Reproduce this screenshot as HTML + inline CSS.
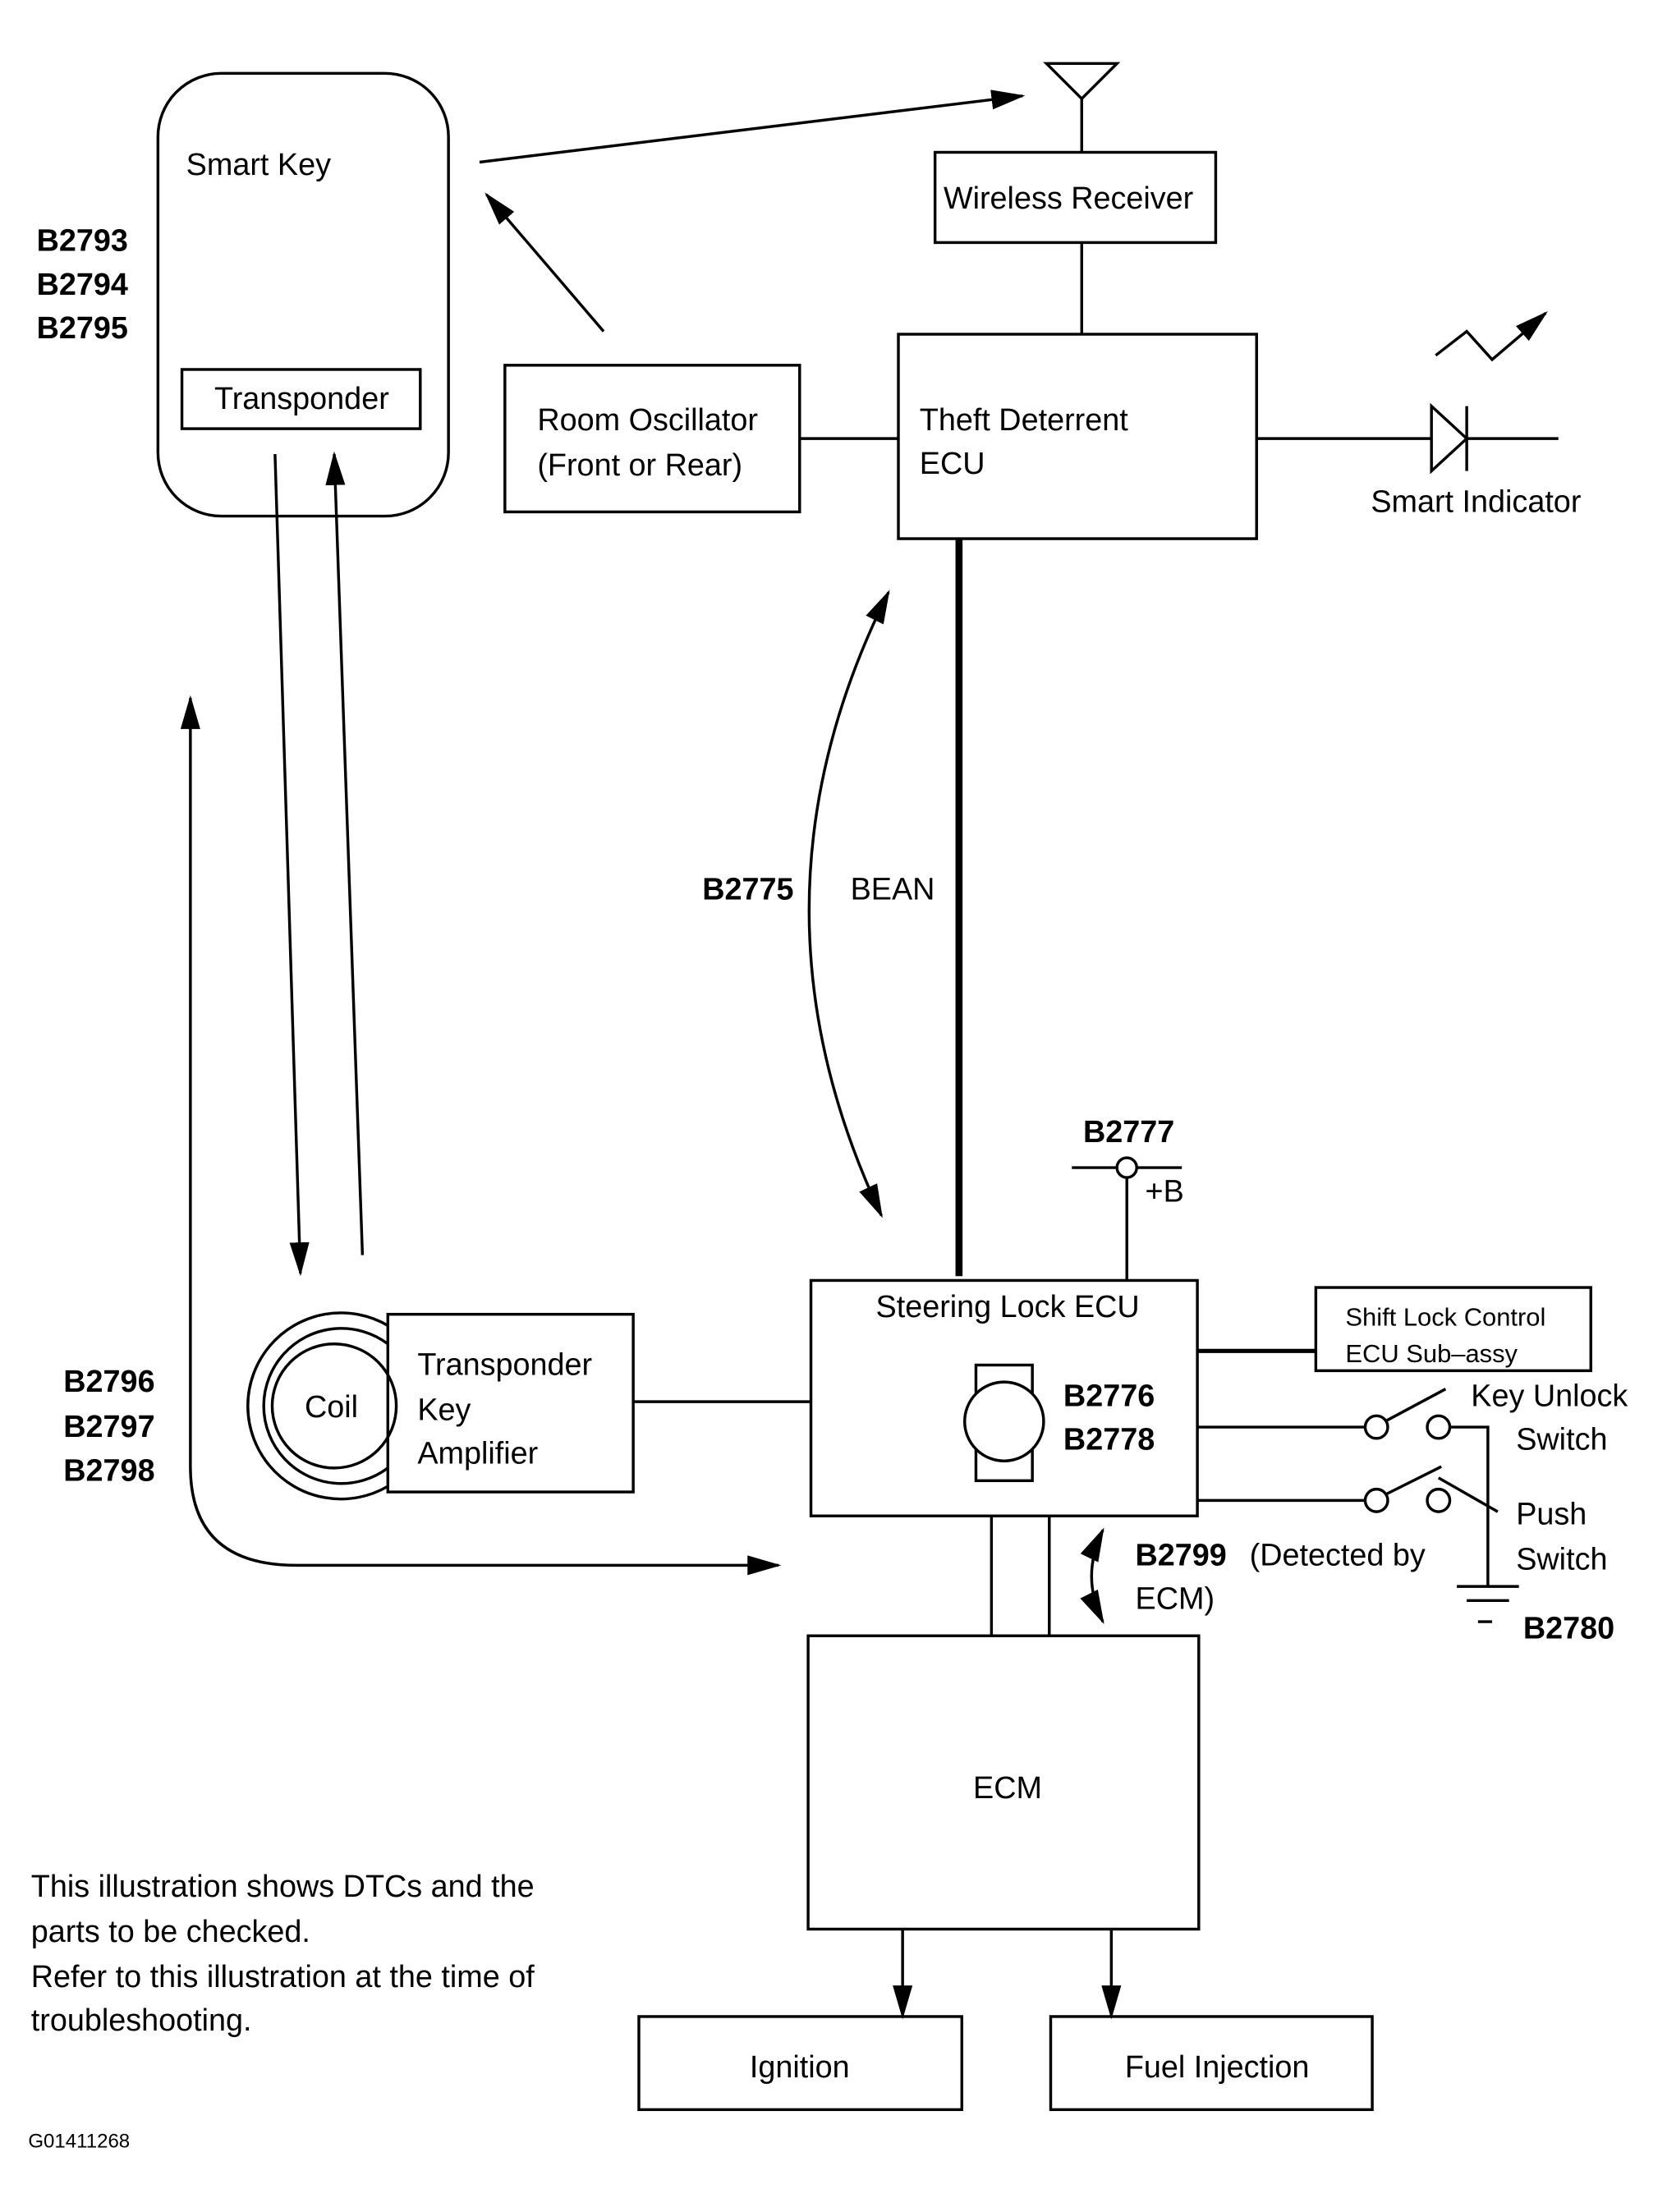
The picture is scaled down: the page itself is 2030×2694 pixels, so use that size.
<!DOCTYPE html>
<html><head><style>html,body{margin:0;padding:0;background:#fff}svg{display:block}</style></head><body>
<svg width="2030" height="2694" viewBox="0 0 1182 1568.6" preserveAspectRatio="none" xmlns="http://www.w3.org/2000/svg" font-family="Liberation Sans, sans-serif" font-size="22" fill="none" stroke="#000" stroke-width="2">
<defs>
<marker id="b" markerWidth="24" markerHeight="14" refX="22" refY="7" orient="auto-start-reverse" markerUnits="userSpaceOnUse"><path d="M0,0 L24,7 L0,14 Z" fill="#000" stroke="none"/></marker></defs>
<g fill="#000" stroke="none">
<text x="132" y="124">Smart Key</text>
<text x="152" y="290">Transponder</text>
<g font-weight="bold"><text x="26" y="178">B2793</text><text x="26" y="209">B2794</text><text x="26" y="240">B2795</text>
<text x="45" y="987">B2796</text><text x="45" y="1019">B2797</text><text x="45" y="1050">B2798</text>
<text x="498" y="638">B2775</text><text x="768" y="810">B2777</text>
<text x="754" y="997">B2776</text><text x="754" y="1028">B2778</text>
<text x="805" y="1110">B2799</text><text x="1080" y="1162">B2780</text></g>
<text x="669" y="148">Wireless Receiver</text>
<text x="652" y="305">Theft Deterrent</text><text x="652" y="336">ECU</text>
<text x="381" y="305">Room Oscillator</text><text x="381" y="337">(Front or Rear)</text>
<text x="972" y="363">Smart Indicator</text>
<text x="603" y="638">BEAN</text>
<text x="812" y="852">+B</text>
<text x="621" y="934">Steering Lock ECU</text>
<text x="700" y="1016" font-size="20">M</text>
<text x="216" y="1005">Coil</text>
<text x="296" y="975">Transponder</text><text x="296" y="1007">Key</text><text x="296" y="1038">Amplifier</text>
<text x="954" y="940" font-size="18">Shift Lock Control</text><text x="954" y="966" font-size="18">ECU Sub–assy</text>
<text x="1043" y="997">Key Unlock</text><text x="1075" y="1028">Switch</text>
<text x="1075" y="1081">Push</text><text x="1075" y="1113">Switch</text>
<text x="886" y="1110">(Detected by</text><text x="805" y="1141">ECM)</text>
<text x="690" y="1275">ECM</text>
<text x="567" y="1473" text-anchor="middle">Ignition</text>
<text x="863" y="1473" text-anchor="middle">Fuel Injection</text>
<text x="22" y="1345">This illustration shows DTCs and the</text>
<text x="22" y="1377">parts to be checked.</text>
<text x="22" y="1409">Refer to this illustration at the time of</text>
<text x="22" y="1440">troubleshooting.</text>
<text x="20" y="1523" font-size="14">G01411268</text>
</g>
<rect x="112" y="52" width="206" height="314" rx="45"/>
<rect x="129" y="262" width="169" height="42"/>
<line x1="340" y1="115" x2="725" y2="68" marker-end="url(#b)"/>
<line x1="428" y1="235" x2="345" y2="138" marker-end="url(#b)"/>
<path d="M742,45 L792,45 L767,70 Z M767,70 V108"/>
<rect x="663" y="108" width="199" height="64"/>
<line x1="767" y1="172" x2="767" y2="237"/>
<rect x="637" y="237" width="254" height="145"/>
<rect x="358" y="259" width="209" height="104"/>
<line x1="567" y1="311" x2="637" y2="311"/>
<path d="M891,311 H1015 M1015,288 L1015,334 L1040,311 Z M1040,288 V334 M1040,311 H1105"/>
<polyline points="1018,252 1040,235 1058,255 1085,232" />
<line x1="1080" y1="236" x2="1096" y2="222" marker-end="url(#b)"/>
<line x1="680" y1="382" x2="680" y2="905" stroke-width="5"/>
<path d="M630,420 Q520,640 625,862" marker-start="url(#b)" marker-end="url(#b)"/>
<path d="M135,495 V1040 Q135,1110 210,1110 H552" marker-start="url(#b)" marker-end="url(#b)"/>
<line x1="195" y1="322" x2="213" y2="903" marker-end="url(#b)"/>
<line x1="257" y1="890" x2="237" y2="322" marker-end="url(#b)"/>
<path d="M275,940 A66,66 0 1 0 275,1054"/>
<path d="M275,953 A55,55 0 1 0 275,1041"/>
<circle cx="237" cy="997" r="44"/>
<rect x="275" y="932" width="174" height="126"/>
<line x1="449" y1="994" x2="575" y2="994"/>
<rect x="575" y="908" width="274" height="167"/>
<rect x="692" y="968" width="40" height="82"/>
<circle cx="712" cy="1008" r="28" fill="#fff"/>
<path d="M760,828 H838 M799,835 V908"/>
<circle cx="799" cy="828" r="7" fill="#fff"/>
<rect x="933" y="913" width="195" height="59"/>
<line x1="849" y1="958" x2="933" y2="958" stroke-width="3"/>
<path d="M849,1012 H968 M1028,1012 H1055 V1125 M982,1008 L1025,985"/>
<circle cx="976" cy="1012" r="8"/><circle cx="1020" cy="1012" r="8"/>
<path d="M849,1064 H968 M982,1060 L1022,1040 M1020,1048 L1062,1072"/>
<circle cx="976" cy="1064" r="8"/><circle cx="1020" cy="1064" r="8"/>
<path d="M1033,1125 H1077 M1040,1135 H1070 M1048,1150 H1058"/>
<path d="M703,1075 V1160 M744,1075 V1160"/>
<path d="M782,1085 Q766,1118 782,1150" marker-start="url(#b)" marker-end="url(#b)"/>
<rect x="573" y="1160" width="277" height="208"/>
<line x1="640" y1="1368" x2="640" y2="1430" marker-end="url(#b)"/>
<line x1="788" y1="1368" x2="788" y2="1430" marker-end="url(#b)"/>
<rect x="453" y="1430" width="229" height="66"/>
<rect x="745" y="1430" width="228" height="66"/>
</svg>
</body></html>
